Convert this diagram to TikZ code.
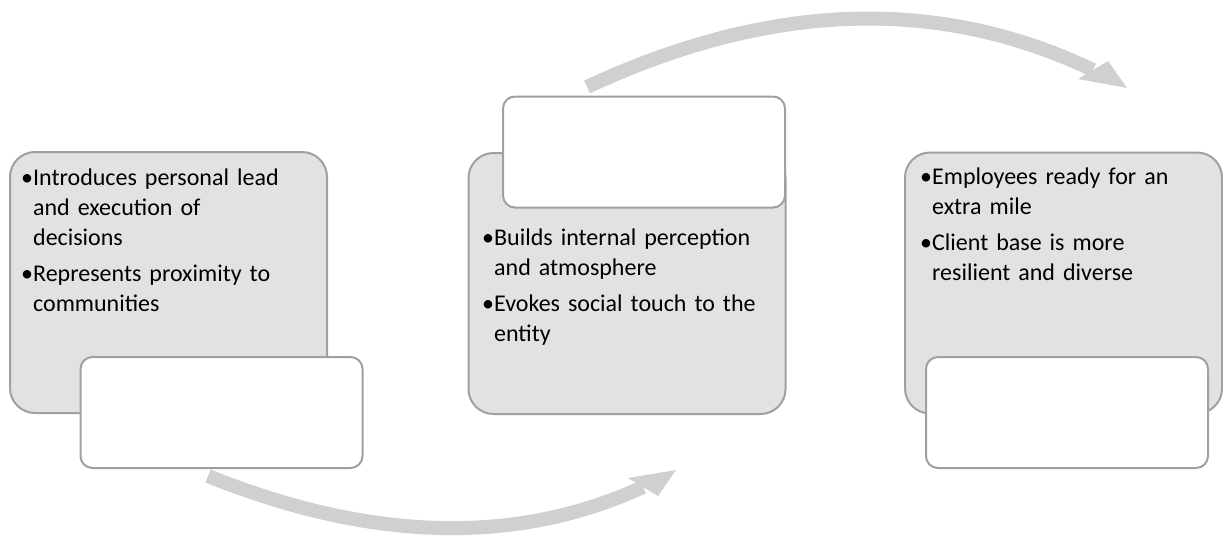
\documentclass[tikz,border=0pt]{standalone}
\usepackage{fontspec}
\setmainfont{Carlito}
\usetikzlibrary{arrows.meta}
\definecolor{boxfill}{HTML}{E2E2E2}
\definecolor{boxline}{HTML}{A0A0A0}
\definecolor{arrowgray}{HTML}{D0D0D0}
\newlength{\bulw}
\newcommand{\bitem}[1]{\noindent\hangindent=\bulw\hangafter=1 •#1\par}
\begin{document}
\settowidth{\bulw}{\fontsize{24}{30}\selectfont •}
\begin{tikzpicture}[x=1pt,y=-1pt,
  graybox/.style={draw=boxline, line width=2pt, fill=boxfill, rounded corners=25pt,
    minimum width=317pt, minimum height=261pt, inner sep=0pt},
  whitebox/.style={draw=boxline, line width=2pt, fill=white, rounded corners=12pt,
    minimum width=282pt, minimum height=111pt, inner sep=0pt},
  bodytext/.style={text width=330pt, align=left, inner sep=0pt,
    font=\fontsize{24}{30}\selectfont, anchor=base west},
  flow/.style={draw=arrowgray, line width=14pt},
  flowhead/.style={fill=arrowgray, draw=none}]
\useasboundingbox (0,0) rectangle (1223,536);

% curved arrows
\coordinate (a1s) at (208,476);
\coordinate (a1e) at (643,487);
\coordinate (a1t) at (676,470);
\coordinate (a1l) at (628,478);
\coordinate (a1r) at (658,496);
\draw[flow] (a1s) .. controls (372,542) and (517,545) .. (a1e);
\fill[flowhead] (a1l) -- (a1t) -- (a1r) -- cycle;

\coordinate (a2s) at (587,87);
\coordinate (a2e) at (1093,70);
\coordinate (a2t) at (1127,88);
\coordinate (a2l) at (1108,61);
\coordinate (a2r) at (1078,79);
\draw[flow] (a2s) .. controls (769,2) and (938,-4) .. (a2e);
\fill[flowhead] (a2l) -- (a2t) -- (a2r) -- cycle;

% gray boxes
\node[graybox] (g1) at (168.5,282.5) {};
\node[graybox] (g2) at (627,283.5) {};
\node[graybox] (g3) at (1063.5,283) {};

% white boxes
\node[whitebox] (w1) at (221.5,412.5) {};
\node[whitebox] (w2) at (644,152) {};
\node[whitebox] (w3) at (1067,412.5) {};

% texts
\node[bodytext] (t1) at (21,185) {\bitem{Introduces personal lead\newline and execution of\newline decisions}\vspace{6pt}\bitem{Represents proximity to\newline communities}};
\node[bodytext] (t2) at (482,245) {\bitem{Builds internal perception\newline and atmosphere}\vspace{6pt}\bitem{Evokes social touch to the\newline entity}};
\node[bodytext] (t3) at (920,184) {\bitem{Employees ready for an\newline extra mile}\vspace{6pt}\bitem{Client base is more\newline resilient and diverse}};
\end{tikzpicture}
\end{document}
